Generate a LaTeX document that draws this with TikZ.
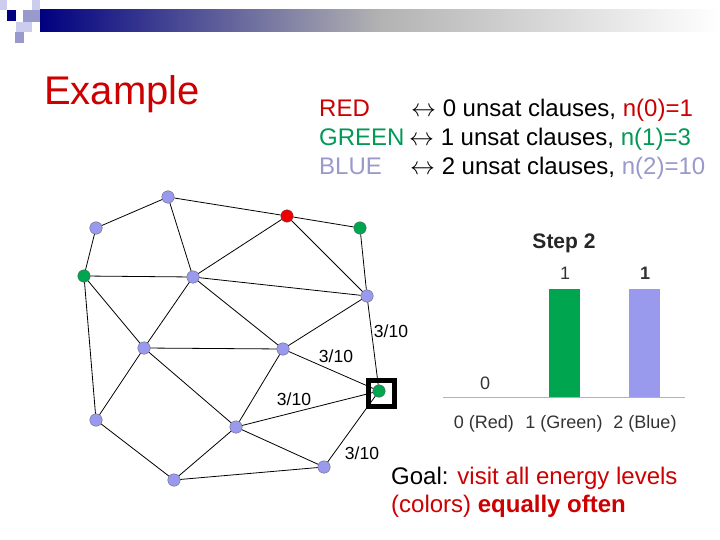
\documentclass[tikz,border=0pt]{standalone}
\usepackage{fontspec}
\setmainfont{Liberation Sans}
\definecolor{nblue}{HTML}{9999EE}
\definecolor{ngreen}{HTML}{00A550}
\definecolor{nred}{HTML}{EE0000}
\definecolor{tred}{HTML}{CC0000}
\definecolor{tgreen}{HTML}{009955}
\definecolor{tblue}{HTML}{9999CC}
\definecolor{navy}{HTML}{000080}
\definecolor{lav}{HTML}{CCCCEE}
\definecolor{mlav}{HTML}{9999CC}
\begin{document}
\begin{tikzpicture}[x=1pt,y=-1pt,
  v/.style={circle,draw=gray!70!black,line width=0.3pt,inner sep=0pt,minimum size=12.5pt},
  bv/.style={v,fill=nblue},
  gv/.style={v,fill=ngreen},
  rv/.style={v,fill=nred},
  edge/.style={line width=0.8pt},
  lab/.style={font=\fontsize{17.5}{20}\selectfont},
  leg/.style={anchor=base west,inner sep=0pt,font=\fontsize{24}{28}\selectfont},
  bt/.style={font=\fontsize{18}{20}\selectfont,text=black!80}]
\useasboundingbox (0,0) rectangle (720,540);
% header
\shade[left color=navy,right color=white,middle color=gray!60] (40,10) rectangle (720,32);
\fill[lav] (0,0) rectangle (7,10);
\fill[lav] (32,0) rectangle (40,10);
\fill[mlav] (23,10) rectangle (40,22);
\fill[navy] (7,10) rectangle (16,21);
\fill[lav] (16,22) rectangle (32,32);
\fill[mlav] (15,32) rectangle (24,43);
\node[anchor=base west,inner sep=0pt,font=\fontsize{40}{46}\selectfont,text=tred] (ex) at (44,105) {Example};
% legend
\node[leg,text=tred] (l1) at (319,117) {RED};
\node[leg,text=tgreen] (l2) at (319,146) {GREEN};
\node[leg,text=tblue] (l3) at (319,175) {BLUE};
\node[leg] (r1) at (411,117) {$\leftrightarrow$ 0 unsat clauses, \textcolor{tred}{n(0)=1}};
\node[leg] (r2) at (405,146) {\,$\leftrightarrow$ 1 unsat clauses, \textcolor{tgreen}{n(1)=3}};
\node[leg] (r3) at (410,175) {$\leftrightarrow$ 2 unsat clauses, \textcolor{tblue}{n(2)=10}};
% graph
\node[bv] (a) at (96,228) {};
\node[bv] (b) at (168,197) {};
\node[rv] (R) at (287,216) {};
\node[gv] (G1) at (360,228) {};
\node[gv] (G2) at (84,276) {};
\node[bv] (c) at (193,277) {};
\node[bv] (d) at (367,296) {};
\node[bv] (e) at (144,348) {};
\node[bv] (f) at (283,349) {};
\node[gv] (G3) at (379,391) {};
\node[bv] (g) at (96,420) {};
\node[bv] (h) at (236,427) {};
\node[bv] (i) at (324,467) {};
\node[bv] (j) at (174,480) {};
\foreach \s/\t in {a/b,a/G2,b/R,b/c,R/G1,R/c,R/d,G1/d,G2/c,G2/e,G2/g,c/d,c/e,c/f,d/f,d/G3,e/f,e/g,e/h,f/G3,f/h,G3/h,G3/i,g/j,h/j,h/i,j/i}
  \draw[edge] (\s) -- (\t);
\node[draw=black,line width=4.5pt,minimum size=26pt,inner sep=0pt] (box) at (381.5,393.5) {};
\node[lab] (t1) at (391,331) {3/10};
\node[lab] (t2) at (336,356) {3/10};
\node[lab] (t3) at (294,399) {3/10};
\node[lab] (t4) at (362,453) {3/10};
% chart
\node[font=\bfseries\fontsize{21}{24}\selectfont,text=black!85] (st) at (564,243) {Step 2};
\fill[ngreen] (549,289) rectangle (580,397);
\fill[nblue] (629,289) rectangle (660,397);
\draw[gray!60,line width=1pt] (443,397.5) coordinate (ax0) -- (685,397.5) coordinate (ax1);
\node[bt] (n0) at (485,383) {0};
\node[bt] (n1) at (565,273) {1};
\node[bt,font=\bfseries\fontsize{18}{20}\selectfont] (n2) at (645,273) {1};
\node[bt] (x0) at (484,424) {0 (Red)};
\node[bt] (x1) at (564,424) {1 (Green)};
\node[bt] (x2) at (645,424) {2 (Blue)};
% goal
\node[leg] (g1) at (391,484) {Goal: \textcolor{tred}{visit all energy levels}};
\node[leg,text=tred] (g2) at (391,512) {(colors) \textbf{equally often}};
\end{tikzpicture}
\end{document}
